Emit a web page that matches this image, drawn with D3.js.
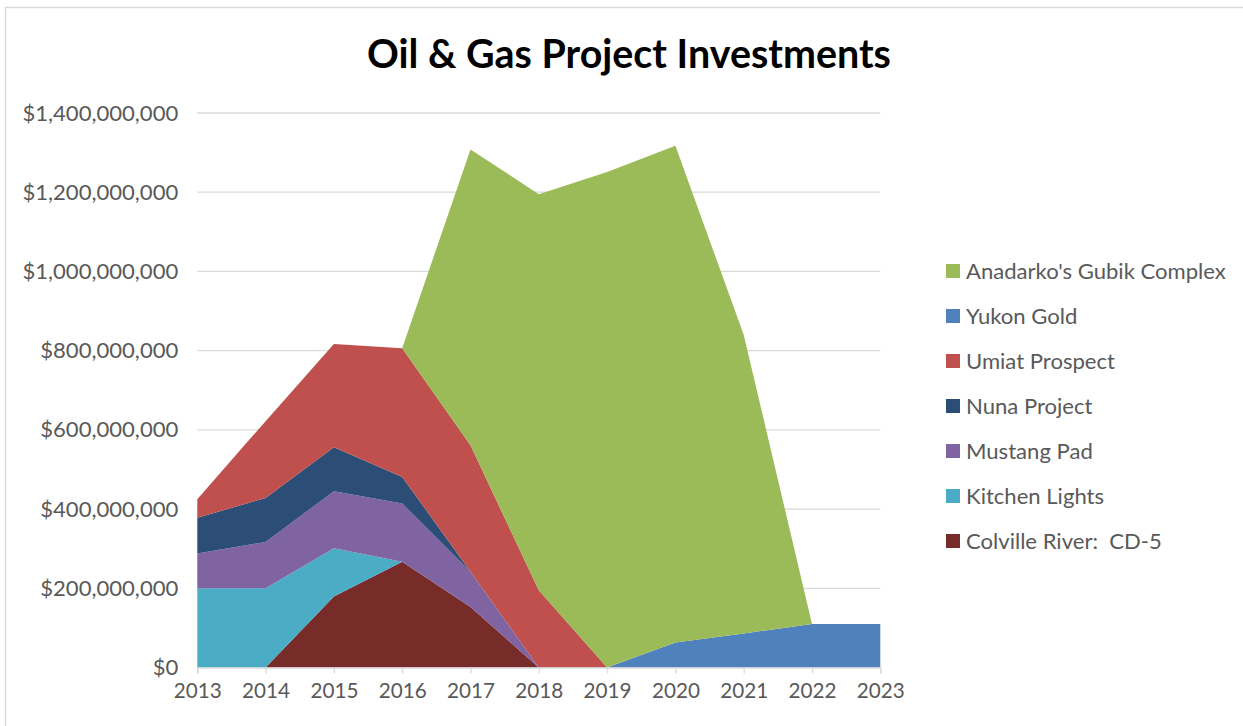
<!DOCTYPE html>
<html>
<head>
<meta charset="utf-8">
<script src="https://cdn.jsdelivr.net/npm/d3@7"></script>
<style>
  body { margin: 0; background: #fff; }
  svg { display: block; font-family: Lato, "Open Sans", sans-serif; }
  text { white-space: pre; }
</style>
</head>
<body>
<svg id="chart" width="1243" height="726"></svg>
<script>
const years = [2013, 2014, 2015, 2016, 2017, 2018, 2019, 2020, 2021, 2022, 2023];

// values in millions of dollars, bottom of the stack first
const colville = [0, 0, 179, 267, 153, 0, 0, 0, 0, 0, 0];
const kitchen  = [200, 200, 122, 0, 0, 0, 0, 0, 0, 0, 0];
const mustang  = [88, 117, 144, 147, 89, 0, 0, 0, 0, 0, 0];
const nuna     = [90, 111, 111, 67, 0, 0, 0, 0, 0, 0, 0];
const umiat    = [47, 194, 261, 325, 319, 195, 0, 0, 0, 0, 0];
const yukon    = [0, 0, 0, 0, 0, 0, 0, 63, 86, 110, 110];
const gubik    = [0, 0, 0, 0, 747, 1000, 1251, 1254, 754, 0, 0];

const seriesNames = ["Colville River:  CD-5", "Kitchen Lights", "Mustang Pad", "Nuna Project",
  "Umiat Prospect", "Yukon Gold", "Anadarko's Gubik Complex"];
const seriesValues = [colville, kitchen, mustang, nuna, umiat, yukon, gubik];
const colors = ["#772C2A", "#4BACC6", "#8064A2", "#2C4D75", "#C0504D", "#4F81BD", "#9BBB59"];
const yTicks = [0, 200, 400, 600, 800, 1000, 1200, 1400];

const rows = years.map((yr, i) => {
  const r = { year: yr };
  seriesNames.forEach((n, k) => r[n] = seriesValues[k][i] * 1e6);
  return r;
});

// scale a group of labels so that one reference label has the wanted width
function fitSize(sel, refNode, width, start) {
  sel.style("font-size", start + "px");
  const w = refNode.getComputedTextLength();
  sel.style("font-size", (start * width / w) + "px");
}

const svg = d3.select("#chart");
const plotLeft = 197.3, plotRight = 880.3, plotTop = 113, plotBottom = 667.5;

svg.append("rect")
  .attr("x", 5.5).attr("y", 7.5)
  .attr("width", 1300).attr("height", 800)
  .attr("fill", "#fff").attr("stroke", "#d9d9d9").attr("stroke-width", 1.5);

const x = d3.scaleLinear().domain([2013, 2023]).range([plotLeft, plotRight]);
const y = d3.scaleLinear().domain([0, 1.4e9]).range([plotBottom, plotTop]);

// gridlines
svg.append("g")
  .selectAll("line")
  .data(yTicks.slice(1))
  .enter()
  .append("line")
  .attr("x1", plotLeft).attr("x2", plotRight)
  .attr("y1", d => y(d * 1e6)).attr("y2", d => y(d * 1e6))
  .attr("stroke", "#d9d9d9").attr("stroke-width", 1.3);

const stack = d3.stack().keys(seriesNames);
const layers = stack(rows);

const area = d3.area()
  .x(d => x(d.data.year))
  .y0(d => y(d[0]))
  .y1(d => y(d[1]));

svg.append("g")
  .selectAll("path")
  .data(layers)
  .enter()
  .append("path")
  .attr("d", area)
  .attr("fill", (d, i) => colors[i]);

// x axis
const xAxis = d3.axisBottom(x).tickValues(years).tickFormat(d => d).tickSize(6).tickPadding(10);
const gx = svg.append("g")
  .attr("transform", `translate(0, ${plotBottom})`)
  .attr("font-family", null)
  .call(xAxis);
gx.attr("font-family", null);
gx.select(".domain").attr("stroke", "#d9d9d9").attr("stroke-width", 1.3);
gx.selectAll(".tick line").attr("stroke", "#d9d9d9").attr("stroke-width", 1.3);
const xLabels = gx.selectAll(".tick text").attr("fill", "#595959");
fitSize(xLabels, xLabels.node(), 48, 20);

// y axis
const yAxis = d3.axisLeft(y)
  .tickValues(yTicks.map(d => d * 1e6))
  .tickFormat(d => "$" + d3.format(",")(d))
  .tickSize(0).tickPadding(19);
const gy = svg.append("g")
  .attr("transform", `translate(${plotLeft}, 0)`)
  .call(yAxis);
gy.attr("font-family", null);
gy.select(".domain").remove();
const yLabels = gy.selectAll(".tick text").attr("fill", "#595959");
fitSize(yLabels, yLabels.nodes()[yLabels.size() - 1], 156, 20);

// title
const title = svg.append("text")
  .attr("x", 629).attr("y", 68)
  .attr("text-anchor", "middle")
  .attr("font-weight", "bold")
  .attr("fill", "#000")
  .text("Oil & Gas Project Investments");
fitSize(title, title.node(), 524, 35);

// legend
const legendItems = seriesNames.map((n, i) => ({ name: n, color: colors[i] })).reverse();
const legend = svg.append("g")
  .selectAll("g")
  .data(legendItems)
  .enter()
  .append("g")
  .attr("transform", (d, i) => `translate(946, ${271 + i * 45})`);
legend.append("rect")
  .attr("x", 0).attr("y", -7).attr("width", 14).attr("height", 14)
  .attr("fill", d => d.color);
const legendText = legend.append("text")
  .attr("x", 20).attr("y", 0).attr("dy", "0.35em")
  .attr("fill", "#595959")
  .text(d => d.name);
fitSize(legendText, legendText.node(), 260, 20);
</script>
</body>
</html>
